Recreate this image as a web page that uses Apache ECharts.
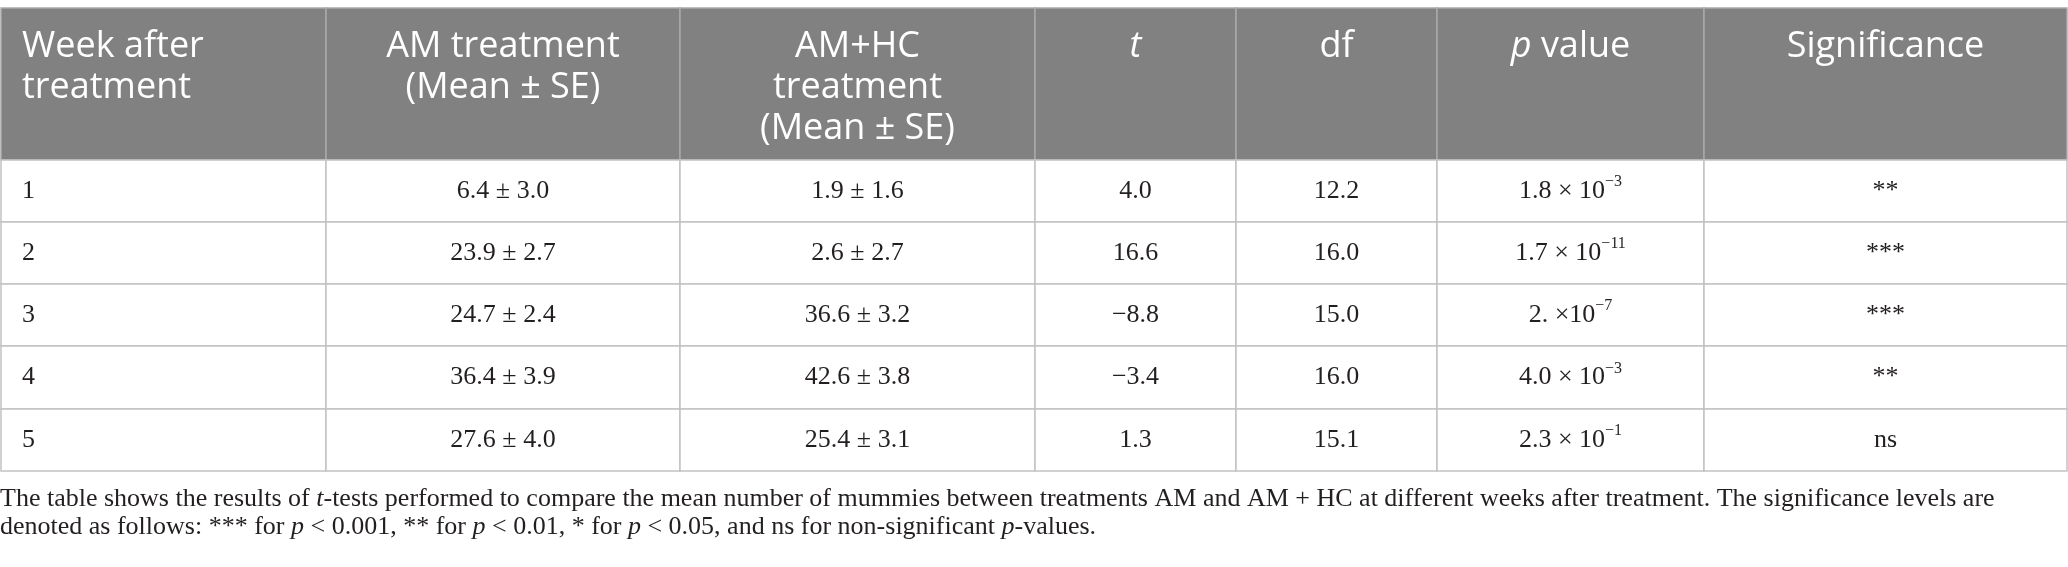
<!DOCTYPE html>
<html>
<head>
<meta charset="utf-8">
<title>t-tests AM vs AM+HC</title>
<script src="https://cdn.jsdelivr.net/npm/echarts@6/dist/echarts.min.js"></script>
<style>
html,body{margin:0;padding:0;background:#fff;}
#tables{width:2068px;height:567px;}
</style>
</head>
<body>
<div id="tables"></div>
<script>
// table content
var headers = ['Week after\ntreatment', 'AM treatment\n(Mean ± SE)', 'AM+HC\ntreatment\n(Mean ± SE)', '{hi|t}', 'df', '{hi|p} value', 'Significance'];
var weeks = [1, 2, 3, 4, 5];
var amMean = [6.4, 23.9, 24.7, 36.4, 27.6];
var amSE = [3.0, 2.7, 2.4, 3.9, 4.0];
var hcMean = [1.9, 2.6, 36.6, 42.6, 25.4];
var hcSE = [1.6, 2.7, 3.2, 3.8, 3.1];
var tValues = [4.0, 16.6, -8.8, -3.4, 1.3];
var dfValues = [12.2, 16.0, 15.0, 16.0, 15.1];
var pBase = ['1.8 × 10', '1.7 × 10', '2. ×10', '4.0 × 10', '2.3 × 10'];
var pExp = [-3, -11, -7, -3, -1];
var significance = ['**', '***', '***', '**', 'ns'];
var caption = [
  'The table shows the results of {i|t}-tests performed to compare the mean number of mummies between treatments AM and AM + HC at different weeks after treatment. The significance levels are',
  'denoted as follows: *** for {i|p} < 0.001, ** for {i|p} < 0.01, * for {i|p} < 0.05, and ns for non-significant {i|p}-values.'
];

// layout (px)
var colWidths = [325, 354, 355, 201, 201, 267, 363];
var rowHeights = [152, 62, 62, 62, 63, 62];

var colEdges = [0], rowEdges = [0];
colWidths.forEach(function(w, i){ colEdges.push(colEdges[i] + w); });
rowHeights.forEach(function(h, i){ rowEdges.push(rowEdges[i] + h); });

var serif = 'Liberation Serif';
var sans = 'Open Sans';
var ink = '#231f20';

function num(v){
  var s = Math.abs(v).toFixed(1);
  return v < 0 ? '\u2212' + s : s;
}

function cellText(c, r){
  if (r === 0) return headers[c];
  var i = r - 1;
  switch (c) {
    case 0: return String(weeks[i]);
    case 1: return num(amMean[i]) + ' ± ' + num(amSE[i]);
    case 2: return num(hcMean[i]) + ' ± ' + num(hcSE[i]);
    case 3: return num(tValues[i]);
    case 4: return num(dfValues[i]);
    case 5: return pBase[i] + '{sup|\u2212' + Math.abs(pExp[i]) + '}';
    default: return significance[i];
  }
}

var cells = [];
for (var r = 0; r < rowHeights.length; r++) {
  for (var c = 0; c < colWidths.length; c++) {
    cells.push([c, r]);
  }
}

function renderCell(params, api){
  var c = api.value(0), r = api.value(1);
  var p0 = api.coord([colEdges[c], rowEdges[r]]);
  var p1 = api.coord([colEdges[c + 1], rowEdges[r + 1]]);
  var head = r === 0;
  var tx = c === 0 ? p0[0] + 21 : (p0[0] + p1[0]) / 2;
  var textStyle;
  if (head) {
    textStyle = {
      text: cellText(c, r), x: tx, y: p0[1] + 18,
      align: c === 0 ? 'left' : 'center', verticalAlign: 'top',
      fontFamily: sans, fontSize: 36, lineHeight: 41, fill: '#fff',
      rich: { hi: { fontFamily: sans, fontSize: 36, lineHeight: 41, fontStyle: 'italic', fill: '#fff' } }
    };
  } else {
    textStyle = {
      text: cellText(c, r), x: tx, y: (p0[1] + p1[1]) / 2,
      align: c === 0 ? 'left' : 'center', verticalAlign: 'middle',
      fontFamily: serif, fontSize: 26, lineHeight: 34, fill: ink,
      rich: { sup: { fontFamily: serif, fontSize: 16, lineHeight: 20, verticalAlign: 'top', fill: ink } }
    };
  }
  return {
    type: 'group',
    children: [{
      type: 'rect',
      shape: { x: p0[0], y: p0[1], width: p1[0] - p0[0], height: p1[1] - p0[1] },
      style: { fill: head ? '#808180' : '#fff', stroke: head ? '#a9a9a9' : '#c2c2c2', lineWidth: 1.5 }
    }, {
      type: 'text',
      style: textStyle
    }]
  };
}

var chart = echarts.init(document.getElementById('tables'));
chart.setOption({
  animation: false,
  title: {
    left: 0, top: 485, padding: 0,
    text: caption.join('\n'),
    textStyle: {
      fontFamily: serif, fontSize: 26, fontWeight: 'normal', color: ink, lineHeight: 28,
      rich: { i: { fontStyle: 'italic' } }
    }
  },
  grid: { left: 1, right: 1, top: 8, bottom: 96 },
  xAxis: { type: 'value', min: 0, max: colEdges[colEdges.length - 1], show: false },
  yAxis: { type: 'value', min: 0, max: rowEdges[rowEdges.length - 1], inverse: true, show: false },
  series: [{
    type: 'custom',
    coordinateSystem: 'cartesian2d',
    encode: { x: 0, y: 1 },
    silent: true,
    clip: false,
    renderItem: renderCell,
    data: cells
  }]
});
</script>
</body>
</html>
